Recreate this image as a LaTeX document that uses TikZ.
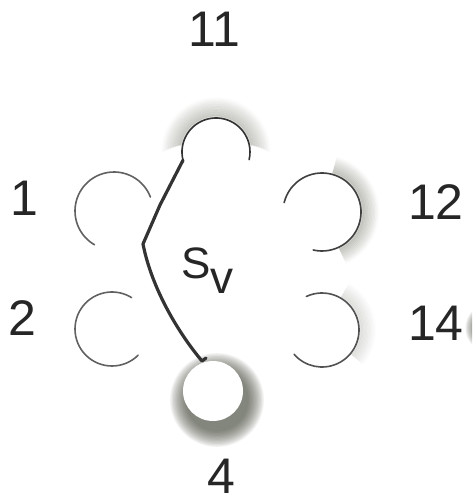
\documentclass[tikz,border=0pt]{standalone}
\usepackage{fontspec}
\setmainfont{Liberation Sans}
\usetikzlibrary{calc}
\definecolor{shA}{HTML}{6F7463}
\definecolor{shB}{HTML}{3E4233}
\tikzset{
  lbl/.style={font=\fontsize{50}{50}\selectfont, inner sep=0pt, text=black!85},
  arcline/.style={line width=1.6pt, draw=black!62, line cap=round},
  wire/.style={line width=3.2pt, draw=black!80, line cap=round, line join=round},
  hole/.style={fill=white},
  glow/.style={line width=3pt, draw=shA, line cap=butt}
}
\begin{document}
\begin{tikzpicture}[x=1pt,y=-1pt]
\clip (0,0) rectangle (472,503);
\fill[white] (0,0) rectangle (472,503);
% hole centres
\coordinate (c11) at (216,152);
\coordinate (c1) at (114,211);
\coordinate (c2) at (112,329);
\coordinate (c12) at (322,212);
\coordinate (c14) at (322,330);
\coordinate (c4) at (213,391);
% shadows (soft glows outside the holes)
\foreach \i in {1,...,12}{
  \pgfmathsetmacro{\op}{0.24*(1-\i/13)}
  \draw[glow, opacity=\op] (c11) ++(192-\i:34+1.6*\i) arc[start angle=192-\i, end angle=348+\i, radius=34+1.6*\i];
  \draw[glow, opacity=\op] (c12) ++(285:39+1.4*\i) arc[start angle=285, end angle=425, radius=39+1.4*\i];
  \draw[glow, opacity=0.45*\op] (c14) ++(300:37+1.3*\i) arc[start angle=300, end angle=400, radius=37+1.3*\i];
}
\foreach \i in {1,...,12}{
  \fill[shB, opacity=0.08] (217,400) circle (30+1.4*\i);
}
\foreach \i in {1,...,8}{
  \fill[shB, opacity=0.1] (490,328) circle (14+1.3*\i);
}
% white interiors
\fill[hole] (c11) circle (34);
\fill[hole] (c12) circle (38);
\fill[hole] (c14) circle (37);
\fill[hole] (c4) circle (30);
% open arcs
\draw[arcline, draw=black!80] (c11) ++(166:34) arc[start angle=166, end angle=373, radius=34];
\draw[arcline] (c1) ++(120:39) arc[start angle=120, end angle=339, radius=39];
\draw[arcline] (c2) ++(45:37) arc[start angle=45, end angle=302, radius=37];
\draw[arcline, draw=black!75] (c12) ++(194:39) arc[start angle=194, end angle=463, radius=39];
\draw[arcline, draw=black!68] (c14) ++(245:37) arc[start angle=245, end angle=499, radius=37];
% wire
\coordinate (w1) at ($(c11)+(166:34)$);
\coordinate (w2) at (143,244);
\coordinate (w3) at (202,361);
\draw[wire] (w1) -- (160,205) -- (w2) .. controls (152,290) and (180,335) .. (w3) -- ++(4,-3);
% labels
\node[lbl] (l11) at (214,29) {11};
\node[lbl] (l1) at (24,198) {1};
\node[lbl] (l2) at (22,318) {2};
\node[lbl] (l12) at (436,202) {12};
\node[lbl] (l14) at (436,323) {14};
\node[lbl] (l4) at (221,476) {4};
\node[inner sep=0pt, anchor=base west, text=black!85, font=\fontsize{44}{44}\selectfont] (sv) at (181,278) {S\raisebox{-15pt}{\fontsize{46}{46}\selectfont v}};
\end{tikzpicture}
\end{document}
